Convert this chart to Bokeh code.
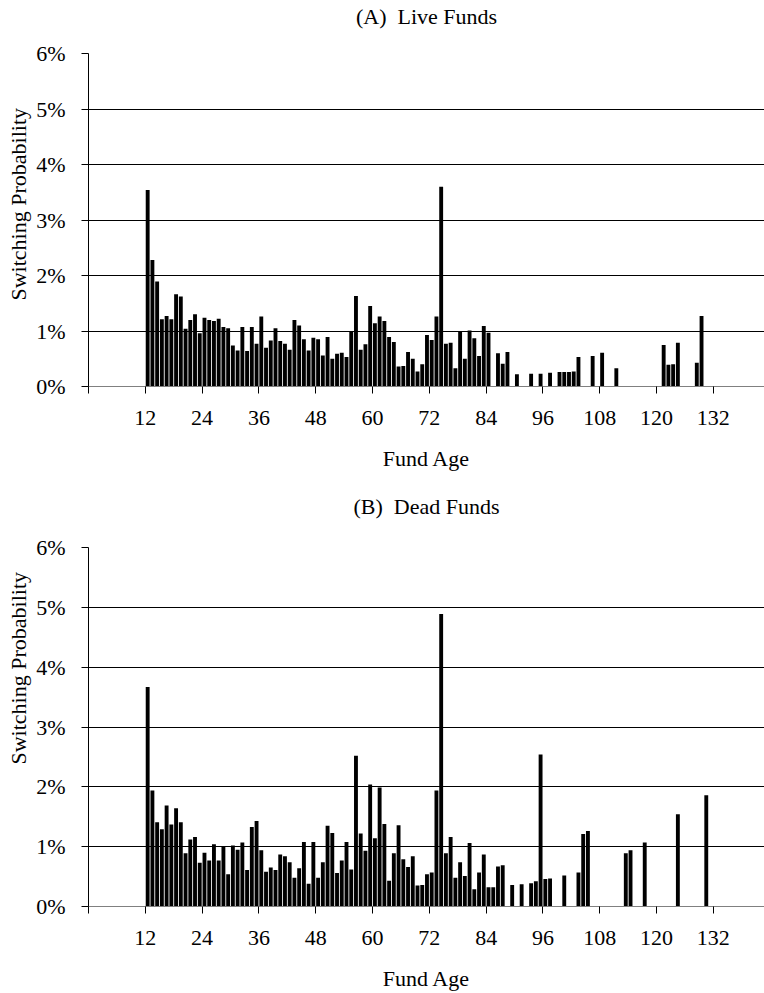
from bokeh.plotting import figure
from bokeh.layouts import column
from bokeh.models import FixedTicker, Range1d, Title, LinearAxis
from bokeh.embed import file_html
from bokeh.resources import INLINE

# ---- data (fund age in months, switching probability in %) ----
live_age = [12, 13, 14, 15, 16, 17, 18, 19, 20, 21, 22, 23, 24, 25, 26, 27, 28, 29,
            30, 31, 32, 33, 34, 35, 36, 37, 38, 39, 40, 41, 42, 43, 44, 45, 46, 47,
            48, 49, 50, 51, 52, 53, 54, 55, 56, 57, 58, 59, 60, 61, 62, 63, 64, 65,
            66, 67, 68, 69, 70, 71, 72, 73, 74, 75, 76, 77, 78, 79, 80, 81, 82, 83,
            84, 86, 87, 88, 90, 93, 95, 97, 99, 100, 101, 102, 103, 106, 108, 111,
            121, 122, 123, 124, 128, 129]
live_prob = [3.54, 2.28, 1.89, 1.21, 1.27, 1.21, 1.66, 1.62, 1.04, 1.20, 1.30, 0.96,
             1.24, 1.20, 1.18, 1.22, 1.07, 1.05, 0.74, 0.65, 1.07, 0.64, 1.07, 0.77,
             1.26, 0.70, 0.83, 1.05, 0.82, 0.77, 0.66, 1.20, 1.10, 0.85, 0.65, 0.88,
             0.85, 0.56, 0.89, 0.50, 0.59, 0.61, 0.53, 0.98, 1.63, 0.66, 0.76, 1.45,
             1.14, 1.26, 1.18, 0.89, 0.80, 0.36, 0.37, 0.62, 0.50, 0.27, 0.40, 0.93,
             0.84, 1.26, 3.60, 0.77, 0.79, 0.33, 0.98, 0.50, 1.01, 0.87, 0.55, 1.09,
             0.97, 0.60, 0.41, 0.62, 0.22, 0.23, 0.23, 0.25, 0.26, 0.26, 0.26, 0.27,
             0.53, 0.55, 0.61, 0.33, 0.75, 0.39, 0.40, 0.79, 0.43, 1.27]

dead_age = [12, 13, 14, 15, 16, 17, 18, 19, 20, 21, 22, 23, 24, 25, 26, 27, 28, 29,
            30, 31, 32, 33, 34, 35, 36, 37, 38, 39, 40, 41, 42, 43, 44, 45, 46, 47,
            48, 49, 50, 51, 52, 53, 54, 55, 56, 57, 58, 59, 60, 61, 62, 63, 64, 65,
            66, 67, 68, 69, 70, 71, 72, 73, 74, 75, 76, 77, 78, 79, 80, 81, 82, 83,
            84, 85, 86, 87, 89, 91, 93, 94, 95, 96, 97, 100, 103, 104, 105, 113, 114,
            117, 124, 130]
dead_prob = [3.67, 1.94, 1.41, 1.29, 1.69, 1.37, 1.64, 1.41, 0.89, 1.12, 1.16, 0.73,
             0.90, 0.77, 1.04, 0.77, 1.00, 0.54, 1.02, 0.95, 1.07, 0.61, 1.33, 1.43,
             0.94, 0.58, 0.65, 0.61, 0.87, 0.84, 0.74, 0.48, 0.64, 1.08, 0.38, 1.08,
             0.48, 0.74, 1.35, 1.23, 0.56, 0.77, 1.08, 0.62, 2.52, 1.22, 0.93, 2.04,
             1.14, 1.99, 1.38, 0.43, 0.89, 1.36, 0.79, 0.66, 0.84, 0.35, 0.36, 0.54,
             0.57, 1.94, 4.89, 0.89, 1.16, 0.48, 0.74, 0.51, 1.06, 0.29, 0.57, 0.87,
             0.32, 0.32, 0.67, 0.69, 0.36, 0.37, 0.39, 0.42, 2.54, 0.46, 0.47, 0.52,
             0.57, 1.21, 1.26, 0.89, 0.94, 1.07, 1.54, 1.86]

x_ticks = [0, 12, 24, 36, 48, 60, 72, 84, 96, 108, 120, 132]
x_tick_labels = ["", "12", "24", "36", "48", "60", "72", "84", "96", "108", "120", "132"]
y_ticks = [0, 1, 2, 3, 4, 5, 6]
y_tick_labels = ["0%", "1%", "2%", "3%", "4%", "5%", "6%"]

FONT = "Liberation Serif"
FS = "22px"
X_MAX = 142.8


def make(title, ages, probs, height, top, bottom, gap_above, ylab_offset):
    p = figure(width=764, height=height, output_backend="svg", toolbar_location=None,
               x_range=Range1d(0, X_MAX), y_range=Range1d(0, 6),
               min_border_left=87, min_border_right=0,
               min_border_top=top, min_border_bottom=bottom,
               background_fill_color="white", border_fill_color="white")
    p.outline_line_color = None
    p.vbar(x=[a + 0.5 for a in ages], top=probs, width=0.82,
           fill_color="black", line_color=None)

    xa = p.below[0]
    ya = p.left[0]

    p.title.text = title
    p.title.text_font = FONT
    p.title.text_font_size = FS
    p.title.text_font_style = "normal"
    p.title.text_color = "black"
    p.title.align = "center"
    p.title.vertical_align = "bottom"
    p.title.standoff = 0

    p.xgrid.grid_line_color = None
    p.ygrid.grid_line_color = "black"
    p.ygrid.grid_line_width = 1

    xa.ticker = FixedTicker(ticks=x_ticks)
    xa.major_label_overrides = {t: l for t, l in zip(x_ticks, x_tick_labels)}
    xa.axis_label = "Fund Age"
    xa.axis_line_color = "#808080"
    xa.major_tick_line_color = "black"
    xa.major_tick_out = 7
    xa.major_tick_in = 0
    xa.minor_tick_line_color = None
    xa.major_label_standoff = 17
    xa.axis_label_standoff = 18
    xa.axis_label_text_font = FONT
    xa.axis_label_text_font_size = FS
    xa.axis_label_text_font_style = "normal"
    xa.axis_label_text_color = "black"

    ya.ticker = FixedTicker(ticks=y_ticks)
    ya.major_label_overrides = {t: l for t, l in zip(y_ticks, y_tick_labels)}
    ya.axis_line_color = "black"
    ya.major_tick_line_color = "black"
    ya.major_tick_out = 7
    ya.major_tick_in = 0
    ya.minor_tick_line_color = None
    ya.major_label_standoff = 16

    for ax in (xa, ya):
        ax.major_label_text_font = FONT
        ax.major_label_text_font_size = FS
        ax.major_label_text_color = "black"

    # invisible spacer (white tick, no label) between the frame and the title
    spacer = LinearAxis(ticker=FixedTicker(ticks=[X_MAX - 0.5]), axis_line_color=None,
                        major_tick_line_color="white", minor_tick_line_color=None,
                        major_tick_out=gap_above, major_tick_in=0,
                        minor_tick_out=0, minor_tick_in=0,
                        major_label_standoff=0,
                        major_label_overrides={X_MAX - 0.5: ""},
                        major_label_text_color="white")
    p.add_layout(spacer, "above")

    ylab = Title(text="Switching Probability", align="left", offset=ylab_offset,
                 vertical_align="bottom", standoff=6,
                 text_font=FONT, text_font_size=FS, text_font_style="normal",
                 text_color="black")
    p.add_layout(ylab, "left")
    return p


pA = make("(A)\u00a0 Live Funds", live_age, live_prob, 480, 53, 94, 25, 86)
pB = make("(B)\u00a0 Dead Funds", dead_age, dead_prob, 513, 67, 86, 29, 142)

layout = column(pA, pB, spacing=0)
open("out.html", "w").write(file_html(layout, INLINE))
